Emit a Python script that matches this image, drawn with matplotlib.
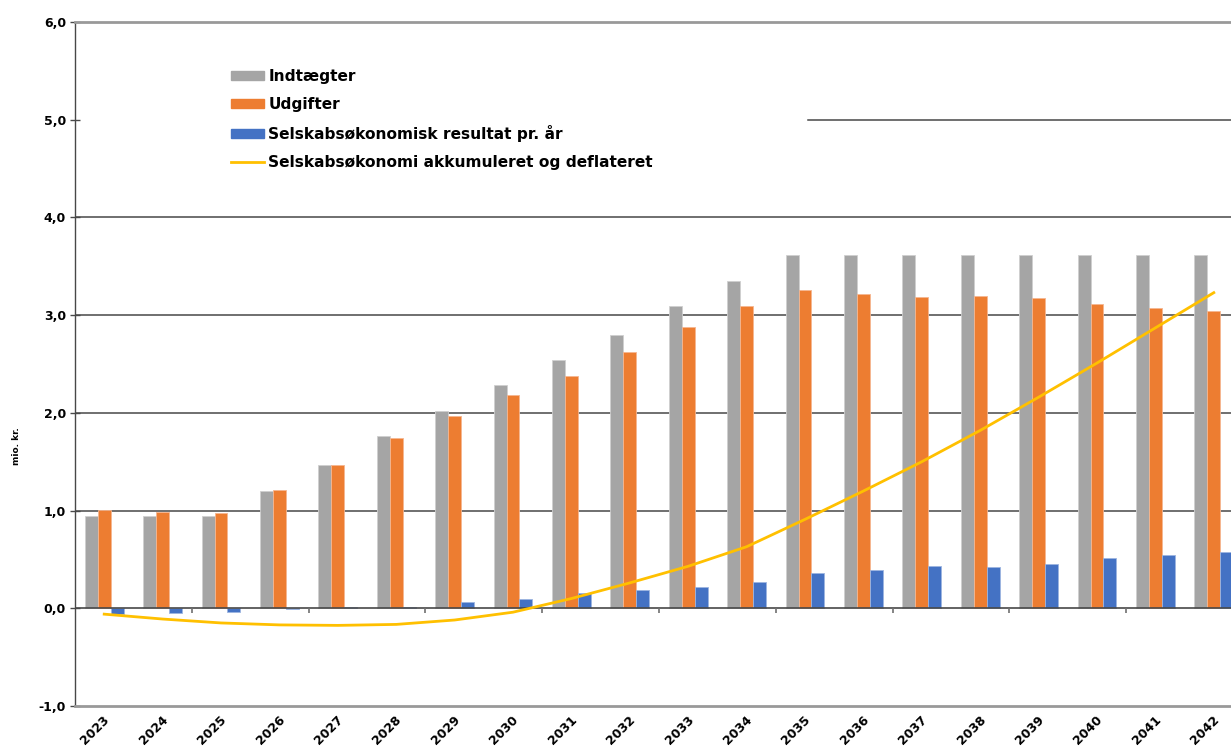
import numpy as np
import matplotlib
matplotlib.use("Agg")
import matplotlib.pyplot as plt
import matplotlib.patches as mpatches
from matplotlib.lines import Line2D

# ── data (mio. kr.) ──────────────────────────────────────────────────────────
years = [str(y) for y in range(2023, 2043)]

indtaegter = [0.94, 0.94, 0.94, 1.20, 1.47, 1.76, 2.02, 2.28, 2.54, 2.80,
              3.09, 3.35, 3.62, 3.62, 3.62, 3.62, 3.62, 3.62, 3.62, 3.62]
udgifter = [1.01, 0.99, 0.98, 1.21, 1.47, 1.74, 1.97, 2.18, 2.38, 2.62,
            2.88, 3.09, 3.26, 3.22, 3.19, 3.20, 3.18, 3.11, 3.07, 3.04]
resultat = [-0.06, -0.05, -0.04, -0.01, 0.015, 0.013, 0.06, 0.10, 0.16, 0.19,
            0.22, 0.27, 0.36, 0.39, 0.43, 0.42, 0.45, 0.51, 0.55, 0.58]
akkumuleret = [-0.06, -0.11, -0.15, -0.17, -0.175, -0.165, -0.12, -0.04, 0.10, 0.26,
               0.43, 0.63, 0.91, 1.20, 1.50, 1.82, 2.16, 2.51, 2.87, 3.23]

labels = ["Indtægter", "Udgifter", "Selskabsøkonomisk resultat pr. år",
          "Selskabsøkonomi akkumuleret og deflateret"]

C_GRAY, C_ORANGE, C_BLUE, C_YELLOW = "#A5A5A5", "#ED7D31", "#4472C4", "#FFC000"
GRID = "#484848"

plt.rcParams["font.family"] = ["DejaVu Sans"]

fig = plt.figure(figsize=(12.31, 7.47), dpi=100)
ax = fig.add_axes([75 / 1231, 41 / 747, 1156 / 1231, 684 / 747])

x = np.arange(len(years))
w = 0.2226

ax.bar(x - w, indtaegter, w, color=C_GRAY, edgecolor="#CFCFCF", linewidth=0.6, zorder=3)
ax.bar(x, udgifter, w, color=C_ORANGE, edgecolor="#F5B690", linewidth=0.6, zorder=3)
ax.bar(x + w, resultat, w, color=C_BLUE, edgecolor="#9DB5E0", linewidth=0.6, zorder=3)
ax.plot(x, akkumuleret, color=C_YELLOW, linewidth=2.0, zorder=5)

ax.set_xlim(-0.5, 1156 / 58.4 - 0.5)
ax.set_ylim(-1.0, 6.0)

# gridlines (5,0 partly hidden behind the legend box)
for yv in [1, 2, 3, 4]:
    ax.axhline(yv, color=GRID, linewidth=1.1, zorder=1)
ax.axhline(5, xmin=(808 - 75) / 1156, color=GRID, linewidth=1.1, zorder=1)
ax.axhline(0, color=GRID, linewidth=1.2, zorder=4)

# small ticks on the zero line, every second category boundary
ax.vlines(np.arange(1.5, len(years) - 1, 2), 0, -0.05, color="#707070",
          linewidth=1.2, zorder=4)

ax.set_yticks(np.arange(-1, 7, 1))
ax.set_yticklabels([f"{v:.1f}".replace(".", ",") for v in np.arange(-1, 7, 1)],
                   fontsize=9, fontweight="bold")
ax.tick_params(axis="y", direction="inout", length=7, width=1, color=GRID, pad=3)

ax.set_xticks(x - 0.02)
ax.set_xticklabels(years, rotation=45, ha="right", rotation_mode="anchor",
                   fontsize=9, fontweight="bold")
ax.tick_params(axis="x", length=0, pad=5)

ax.set_ylabel("mio. kr.", fontsize=6.5, fontweight="bold")
ax.yaxis.set_label_coords(-0.047, 0.38)

ax.spines["right"].set_visible(False)
ax.spines["top"].set_color("#999999")
ax.spines["top"].set_linewidth(2)
ax.spines["bottom"].set_color("#999999")
ax.spines["bottom"].set_linewidth(2)
ax.spines["left"].set_color(GRID)
ax.spines["left"].set_linewidth(1)

handles = [
    mpatches.Patch(color=C_GRAY),
    mpatches.Patch(color=C_ORANGE),
    mpatches.Patch(color=C_BLUE),
    Line2D([], [], color=C_YELLOW, linewidth=2.0),
]
leg = ax.legend(handles, labels, loc="upper left",
                bbox_to_anchor=(223 / 1231, 1 - 61 / 747),
                bbox_transform=fig.transFigure, frameon=False,
                prop={"size": 11.1, "weight": "bold"},
                handlelength=2.15, handleheight=0.55, handletextpad=0.3,
                labelspacing=0.86, borderpad=0)

fig.savefig("out.png", dpi=100)
